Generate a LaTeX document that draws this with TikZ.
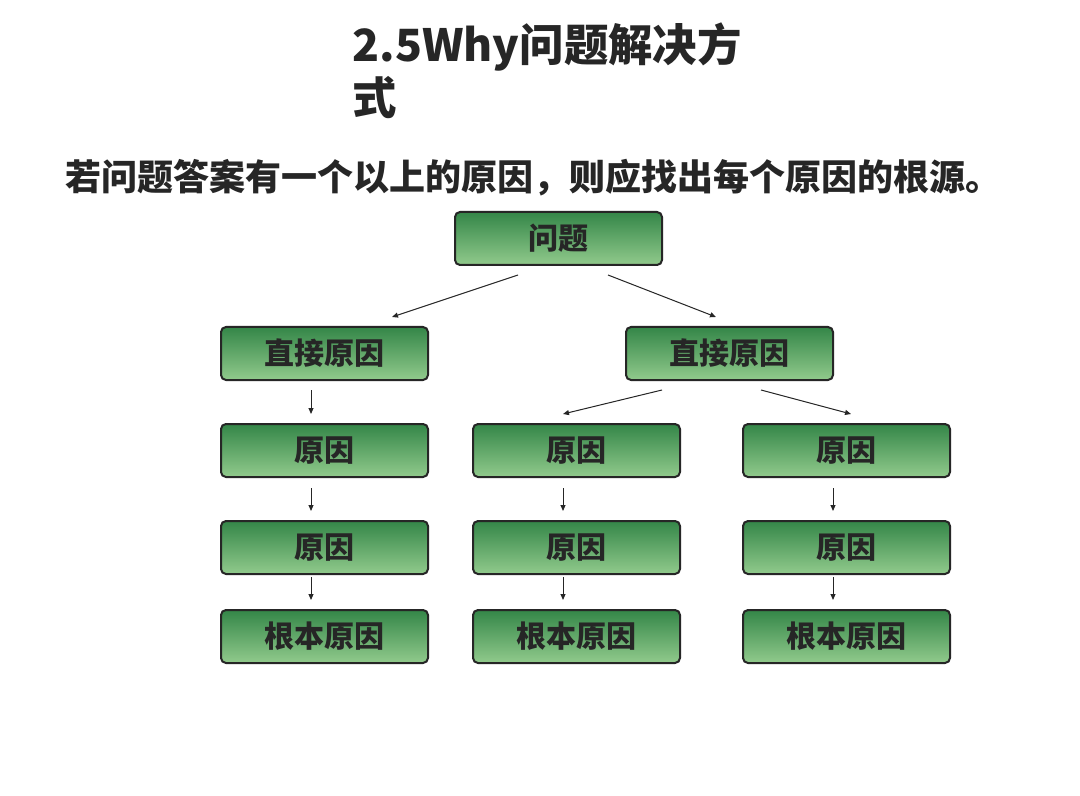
\documentclass[tikz,border=0pt]{standalone}
\usepackage{fontspec}
\usepackage{tikz}
\usetikzlibrary{positioning,arrows.meta}
\newfontfamily\cjk{Noto Sans CJK SC}
\definecolor{boxtop}{RGB}{52,134,72}
\definecolor{boxbot}{RGB}{145,202,140}
\definecolor{ink}{RGB}{38,38,38}
\tikzset{
	why box/.style={draw=ink, line width=1pt, rounded corners=2.5pt, top color=boxtop, bottom color=boxbot,
		minimum width=103.5pt, minimum height=26.5pt, inner sep=0pt, text=ink,
		font=\cjk\bfseries\fontsize{15}{18}\selectfont},
	why arrow/.style={draw=ink, line width=0.5pt, -{Triangle[length=3pt,width=2.5pt]}},
}

\begin{document}
\begin{tikzpicture}[x=0.5pt,y=-0.5pt]
		\useasboundingbox[fill=white] (0,0) rectangle (1080,796);
		% heading
		\node[anchor=base west, inner sep=0pt, text=ink, font=\cjk\bfseries\fontsize{22.2}{27}\selectfont] (title) at (352,62) {2.5Why问题解决方};
		\node[anchor=base west, inner sep=0pt, text=ink, font=\cjk\bfseries\fontsize{22.2}{27}\selectfont] (title2) at (352,115) {式};
		\node[anchor=base west, inner sep=0pt, text=ink, font=\cjk\bfseries\fontsize{18}{21}\selectfont] (lead) at (65,191) {若问题答案有一个以上的原因，则应找出每个原因的根源。};
		% tree
		\node[why box] (q) at (558.5,238.5) {问题};
		\node[why box] (d1) at (324.5,353.5) {直接原因};
		\node[why box] (d2) at (729.5,353.5) {直接原因};
		\node[why box, below=21pt of d1] (a1) {原因};
		\node[why box, right=21.5pt of a1] (a2) {原因};
		\node[why box, right=30.5pt of a2] (a3) {原因};
		\foreach \c in {1,2,3} {
			\node[why box, below=21pt of a\c] (b\c) {原因};
			\node[why box, below=17pt of b\c] (r\c) {根本原因};
			\draw[why arrow] ([shift={(-13.5,10)}]a\c.south) -- ([shift={(-13.5,-9)}]b\c.north);
			\draw[why arrow] ([shift={(-13.5,2)}]b\c.south) -- ([shift={(-13.5,-9)}]r\c.north);
		}
		\draw[why arrow] ([shift={(-40.5,9)}]q.south) -- ([shift={(67.5,-9)}]d1.north);
		\draw[why arrow] ([shift={(49.5,9)}]q.south) -- ([shift={(-13.5,-9)}]d2.north);
		\draw[why arrow] ([shift={(-13.5,9)}]d1.south) -- ([shift={(-13.5,-9)}]a1.north);
		\draw[why arrow] ([shift={(-67.5,9)}]d2.south) -- ([shift={(-13.5,-9)}]a2.north);
		\draw[why arrow] ([shift={(31.5,9)}]d2.south) -- ([shift={(4.5,-9)}]a3.north);
\end{tikzpicture}
\end{document}
